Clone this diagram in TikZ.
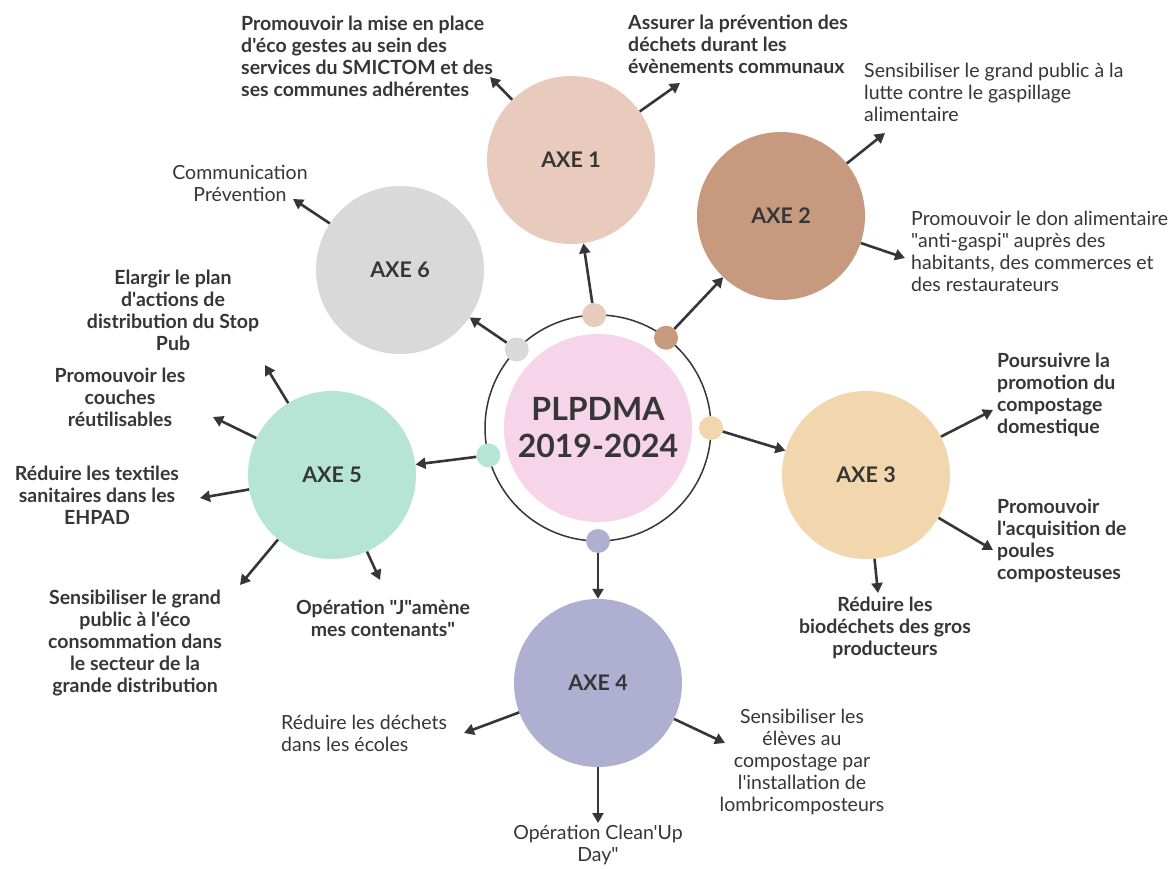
\documentclass[tikz,border=0pt]{standalone}
\usepackage{fontspec}
\newfontfamily\lato{Lato}
\usetikzlibrary{arrows.meta, calc, positioning, backgrounds}
\definecolor{ink}{HTML}{363636}
\definecolor{axeone}{HTML}{E9CBBE}
\definecolor{axetwo}{HTML}{C79A7F}
\definecolor{axethree}{HTML}{F1D6AE}
\definecolor{axefour}{HTML}{AFAFD1}
\definecolor{axefive}{HTML}{B6E4D5}
\definecolor{axesix}{HTML}{D9D9D9}
\definecolor{plppink}{HTML}{F6D5EA}

\begin{document}
\begin{tikzpicture}[% styles used in image code
 x = 1pt, y = -1pt,
 > = {Triangle[length=10pt, width=11pt]},
arr/.style = {->, draw=ink, fill=ink, line width=2.6pt},
axe/.style = {circle, minimum size=168pt, inner sep=0pt, text=ink,
              font=\lato\fontsize{21.5}{24}\selectfont\bfseries},
dot/.style = {circle, minimum size=24pt, inner sep=0pt},
lbl/.style = {inner sep=0pt, text=ink,
              font=\lato\fontsize{19.5}{22}\selectfont},
bld/.style = {font=\lato\fontsize{19.5}{22}\selectfont\bfseries}
                        ]
	% page
	\useasboundingbox[fill=white] (0,0) rectangle (1168,869);

	% centre
	\node[circle, draw=ink, line width=1.5pt, minimum size=226pt] (ring) at (598,428) {};
	\node[circle, fill=plppink, minimum size=188pt, inner sep=0pt, align=center, text=ink,
	      font=\lato\fontsize{32}{37}\selectfont\bfseries] (plp) at (598,428) {PLPDMA\\2019-2024};

	% dots on the ring
	\node[dot, fill=axeone]   (d1) at ($(ring.center)+(92:113pt)$) {};
	\node[dot, fill=axetwo]   (d2) at ($(ring.center)+(53:113pt)$) {};
	\node[dot, fill=axethree] (d3) at ($(ring.center)+(0:113pt)$) {};
	\node[dot, fill=axefour]  (d4) at ($(ring.center)+(270:113pt)$) {};
	\node[dot, fill=axefive]  (d5) at ($(ring.center)+(194:113pt)$) {};
	\node[dot, fill=axesix]   (d6) at ($(ring.center)+(136:113pt)$) {};

	% axes
	\node[axe, fill=axeone]   (axe1) at (571,160) {AXE 1};
	\node[axe, fill=axetwo]   (axe2) at (781,216) {AXE 2};
	\node[axe, fill=axethree] (axe3) at (866,475) {AXE 3};
	\node[axe, fill=axefour]  (axe4) at (598,683) {AXE 4};
	\node[axe, fill=axefive]  (axe5) at (332,475) {AXE 5};
	\node[axe, fill=axesix]   (axe6) at (400,270) {AXE 6};

	\draw[arr] (d1) -- (axe1);
	\draw[arr] (d2) -- (axe2);
	\draw[arr] (d3) -- (axe3);
	\draw[arr] (d4) -- (axe4);
	\draw[arr] (d5) -- (axe5);
	\draw[arr] (d6) -- (axe6);

	% AXE 1
	\node[lbl, bld, anchor=west, align=left] (t1a) at (241,56)
	  {Promouvoir la mise en place\\d'éco gestes au sein des\\services du SMICTOM et des\\ses communes adhérentes};
	\node[lbl, bld, anchor=west, align=left] (t1b) at (628,44)
	  {Assurer la prévention des\\déchets durant les\\évènements communaux};
	\coordinate (h1a) at (490,77);
	\coordinate (h1b) at (680,83);
	\draw[arr] (axe1) -- (h1a);
	\draw[arr] (axe1) -- (h1b);

	% AXE 2
	\node[lbl, anchor=west, align=left] (t2a) at (864,92)
	  {Sensibiliser le grand public à la\\lutte contre le gaspillage\\alimentaire};
	\node[lbl, anchor=west, align=left] (t2b) at (911,251)
	  {Promouvoir le don alimentaire\\"anti-gaspi" auprès des\\habitants, des commerces et\\des restaurateurs};
	\coordinate (h2a) at (885,133);
	\coordinate (h2b) at (905,258);
	\draw[arr] (axe2) -- (h2a);
	\draw[arr] (axe2) -- (h2b);

	% AXE 3
	\node[lbl, bld, anchor=west, align=left] (t3a) at (997,395)
	  {Poursuivre la\\promotion du\\compostage\\domestique};
	\node[lbl, bld, anchor=west, align=left] (t3b) at (997,541)
	  {Promouvoir\\l'acquisition de\\poules\\composteuses};
	\node[lbl, bld, align=center] (t3c) at (885,628)
	  {Réduire les\\biodéchets des gros\\producteurs};
	\coordinate (h3a) at (993,410);
	\coordinate (h3b) at (993,550);
	\coordinate (h3c) at (878,593);
	\draw[arr] (axe3) -- (h3a);
	\draw[arr] (axe3) -- (h3b);
	\draw[arr] (axe3) -- (h3c);

	% AXE 4
	\node[lbl, anchor=west, align=left] (t4a) at (281,733)
	  {Réduire les déchets\\dans les écoles};
	\node[lbl, align=center] (t4b) at (802,762)
	  {Sensibiliser les\\élèves au\\compostage par\\l'installation de\\lombricomposteurs};
	\node[lbl, align=center] (t4c) at (598,845)
	  {Opération Clean'Up\\Day"};
	\coordinate (h4a) at (464,733);
	\coordinate (h4b) at (725,743);
	\coordinate (h4c) at (598,823);
	\draw[arr] (axe4) -- (h4a);
	\draw[arr] (axe4) -- (h4b);
	\draw[arr] (axe4) -- (h4c);

	% AXE 5
	\node[lbl, bld, align=center] (t5a) at (173,310)
	  {Elargir le plan\\d'actions de\\distribution du Stop\\Pub};
	\node[lbl, bld, align=center] (t5b) at (120,397)
	  {Promouvoir les\\couches\\réutilisables};
	\node[lbl, bld, align=center] (t5c) at (97,495)
	  {Réduire les textiles\\sanitaires dans les\\EHPAD};
	\node[lbl, bld, align=center] (t5d) at (135,643)
	  {Sensibiliser le grand\\public à l'éco\\consommation dans\\le secteur de la\\grande distribution};
	\node[lbl, bld, align=center] (t5e) at (383,618)
	  {Opération "J"amène\\mes contenants"};
	\coordinate (h5a) at (265,365);
	\coordinate (h5b) at (213,417);
	\coordinate (h5c) at (200,498);
	\coordinate (h5d) at (240,585);
	\coordinate (h5e) at (380,580);
	\draw[arr] (axe5) -- (h5a);
	\draw[arr] (axe5) -- (h5b);
	\draw[arr] (axe5) -- (h5c);
	\draw[arr] (axe5) -- (h5d);
	\draw[arr] (axe5) -- (h5e);

	% AXE 6
	\node[lbl, align=center] (t6a) at (240,183)
	  {Communication\\Prévention};
	\coordinate (h6a) at (293,199);
	\draw[arr] (axe6) -- (h6a);
\end{tikzpicture}
\end{document}
